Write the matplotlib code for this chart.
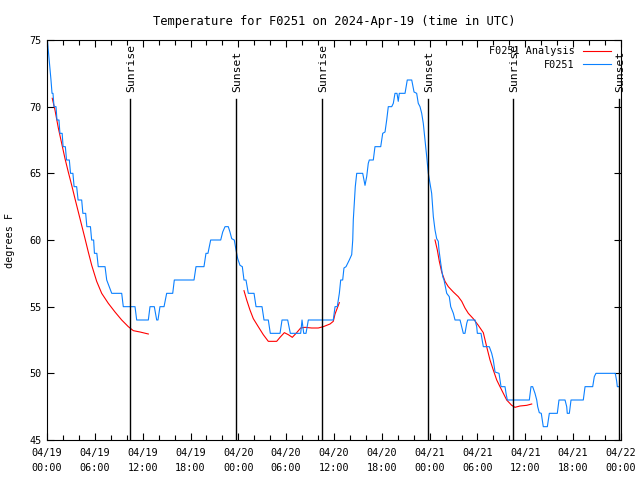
import numpy as np
import matplotlib
matplotlib.use("Agg")
import matplotlib.pyplot as plt
from matplotlib.ticker import MultipleLocator

# hours since 2024-04-19 00:00 UTC
obs_hours = [0.0, 0.5, 0.63, 0.75, 0.88, 1.13, 1.25, 1.5, 1.62, 1.9, 2.02, 2.3, 2.45, 2.8,
             2.95, 3.25, 3.4, 3.72, 3.9, 4.35, 4.5, 4.85, 5.0, 5.45, 5.6, 5.85, 5.95, 6.25,
             6.43, 7.28, 7.49, 8.12, 9.37, 9.57, 11.04, 11.25, 12.71, 12.92, 13.46, 13.76, 13.92,
             14.17, 14.68, 15.01, 15.77, 15.97, 18.44, 18.69, 19.69, 19.94, 20.19, 20.53,
             21.79, 22.04, 22.33, 22.74, 22.95, 23.17, 23.49, 23.71, 23.92, 24.21, 24.50,
             24.71, 24.96, 25.25, 25.97, 26.22, 26.97, 27.22, 27.76, 28.01, 29.23, 29.48,
             30.19, 30.52, 31.82, 31.99, 32.20, 32.49, 32.78, 35.91, 36.13, 36.41, 36.67,
             36.84, 37.09, 37.25, 37.51, 37.92, 38.22, 38.35, 38.42, 38.55, 38.67, 38.85,
             39.60, 39.89, 40.10, 40.30, 40.43, 40.93, 41.14, 41.86, 42.11, 42.40, 42.61,
             42.81, 43.24, 43.44, 43.65, 43.90, 44.06, 44.19, 44.91, 45.19, 45.75, 46.04,
             46.37, 46.57, 46.79, 47.00, 47.20, 47.42, 47.63, 47.83, 48.04, 48.25, 48.46,
             48.67, 48.88, 49.08, 49.17, 49.39, 49.64, 49.80, 50.14, 50.46, 50.64, 50.97,
             51.18, 51.81, 52.02, 52.22, 52.43, 52.65, 52.77, 53.69, 53.90, 53.98, 54.44,
             54.73, 55.48, 55.78, 55.98, 56.20, 56.70, 56.95, 57.45, 57.58, 57.74, 60.50,
             60.71, 60.92, 61.21, 61.43, 61.55, 61.75, 62.00, 62.13, 62.25, 62.76, 62.88,
             63.01, 64.01, 64.22, 64.98, 65.19, 65.26, 65.52, 65.73, 67.27, 67.49, 68.45,
             68.65, 68.86, 71.29, 71.46, 71.54, 71.79]
obs_temp = [75.3, 72, 71, 71, 70, 70, 69, 69, 68, 68, 67, 67, 66, 66,
            65, 65, 64, 64, 63, 63, 62, 62, 61, 61, 60, 60, 59, 59,
            58, 58, 57, 56, 56, 55, 55, 54, 54, 55, 55, 54, 54,
            55, 55, 56, 56, 57, 57, 58, 58, 59, 59, 60,
            60, 60.6, 61, 61, 60.6, 60.1, 60, 59.25, 58.6, 58.1, 58,
            57, 57, 56, 56, 55, 55, 54, 54, 53, 53, 54,
            54, 53, 53, 54, 53, 53, 54, 54, 55, 55, 56,
            57, 57, 57.9, 58, 58.5, 58.9, 60, 61.5, 62.75, 64, 65,
            65, 64.1, 64.75, 65.75, 66, 66, 67, 67, 68, 68.1, 69,
            70, 70, 70.25, 71, 71, 70.4, 71, 71, 72, 72, 71.1,
            71, 70.25, 70, 69.5, 68.75, 67.5, 66.25, 65, 64.25, 63.5, 61.75,
            60.75, 60.1, 59.9, 59.25, 58.25, 57.25, 57, 56, 55.75, 55, 54.5,
            54, 54, 53.5, 53, 53, 53.75, 54, 54, 53.5, 53, 53,
            52, 52, 51.5, 51, 50.1, 50, 49, 49, 48.5, 48, 48,
            49, 49, 48.5, 48, 47.5, 47.05, 47, 46.5, 46, 46, 46.5,
            47, 47, 48, 48, 47.5, 47, 47, 48, 48, 49, 49,
            49.75, 50, 50, 49.4, 49, 49]

ana1_hours = [0.66, 1.00, 1.42, 1.84, 2.26, 2.67, 3.10, 3.51, 3.93, 4.35, 4.77, 5.18,
              5.61, 6.23, 6.86, 7.69, 8.53, 9.37, 10.20, 10.83, 11.67, 12.71]
ana1_temp = [70.63, 69.75, 68.4, 67.25, 66.1, 65.1, 64.1, 63.1, 62.1, 61.1, 60.1, 59.1,
             58.1, 56.9, 56.0, 55.25, 54.6, 54.0, 53.5, 53.2, 53.1, 52.95]
ana2_hours = [24.71, 25.05, 25.46, 25.88, 26.50, 27.13, 27.76, 28.81, 29.23, 29.77, 30.27,
              30.77, 31.32, 31.82, 32.36, 33.20, 34.03, 34.66, 35.08, 35.50, 35.91, 36.13,
              36.67]
ana2_temp = [56.2, 55.5, 54.75, 54.1, 53.5, 52.9, 52.4, 52.4, 52.7, 53.05, 52.9,
             52.7, 53.05, 53.4, 53.45, 53.4, 53.4, 53.5, 53.6, 53.7, 53.9, 54.45,
             55.3]
ana3_hours = [48.67, 48.96, 49.21, 49.51, 49.92, 50.34, 50.97, 51.59, 52.02, 52.43, 52.85,
              53.47, 54.10, 54.73, 55.15, 55.57, 55.98, 56.41, 56.82, 57.24, 57.66, 58.29,
              58.70, 59.33, 60.17, 60.80]
ana3_temp = [60.0, 59.25, 58.4, 57.6, 56.9, 56.5, 56.1, 55.75, 55.4, 54.9, 54.5,
             54.1, 53.6, 53.05, 52.0, 51.0, 50.25, 49.5, 49.0, 48.5, 48.0, 47.6,
             47.45, 47.55, 47.6, 47.7]

sun_hours = [10.41, 23.71, 34.49, 47.79, 58.45, 71.75]
sun_names = ["Sunrise", "Sunset", "Sunrise", "Sunset", "Sunrise", "Sunset"]

tick_hours = list(range(0, 73, 6))
tick_labels = ["04/19\n00:00", "04/19\n06:00", "04/19\n12:00", "04/19\n18:00",
               "04/20\n00:00", "04/20\n06:00", "04/20\n12:00", "04/20\n18:00",
               "04/21\n00:00", "04/21\n06:00", "04/21\n12:00", "04/21\n18:00",
               "04/22\n00:00"]

plt.rcParams['font.family'] = ['DejaVu Sans Mono']
plt.rcParams['font.size'] = 7.3

fig = plt.figure(figsize=(6.4, 4.8), dpi=100)
ax = fig.add_axes([47/640, 40/480, 574/640, 400/480])

red = '#ff0000'
blue = '#0a80ff'
lw = 0.8

ax.plot(ana1_hours, ana1_temp, color=red, lw=lw, label='F0251 Analysis')
ax.plot(ana2_hours, ana2_temp, color=red, lw=lw)
ax.plot(ana3_hours, ana3_temp, color=red, lw=lw)
ax.plot(obs_hours, obs_temp, color=blue, lw=lw, label='F0251')

for h, name in zip(sun_hours, sun_names):
    ax.plot([h, h], [45, 70.6], color='black', lw=1.0)
    ax.text(h + 0.15, 71.1, name, rotation=90, ha='center', va='bottom', fontsize=8.2)

ax.set_xlim(0, 72)
ax.set_ylim(45, 75)
ax.set_xticks(tick_hours)
ax.set_xticklabels(tick_labels, linespacing=1.6)
ax.xaxis.set_minor_locator(MultipleLocator(2))
ax.yaxis.set_major_locator(MultipleLocator(5))
ax.tick_params(which='both', direction='in', top=True, right=True, width=0.8)
ax.tick_params(which='major', length=5)
ax.tick_params(which='minor', length=3.5)
ax.tick_params(axis='x', pad=6)
ax.tick_params(axis='y', pad=4)
for s in ax.spines.values():
    s.set_linewidth(0.8)

ax.set_title('Temperature for F0251 on 2024-Apr-19 (time in UTC)', pad=11)
fig.text(10/640, 0.5, 'degrees F', rotation=90, ha='center', va='center')

ax.legend(loc='upper right', bbox_to_anchor=(0.994, 1.0), frameon=False,
          markerfirst=False, handlelength=2.8, handletextpad=0.8,
          labelspacing=0.35, borderaxespad=0.2)

fig.savefig('out.png', dpi=100)
